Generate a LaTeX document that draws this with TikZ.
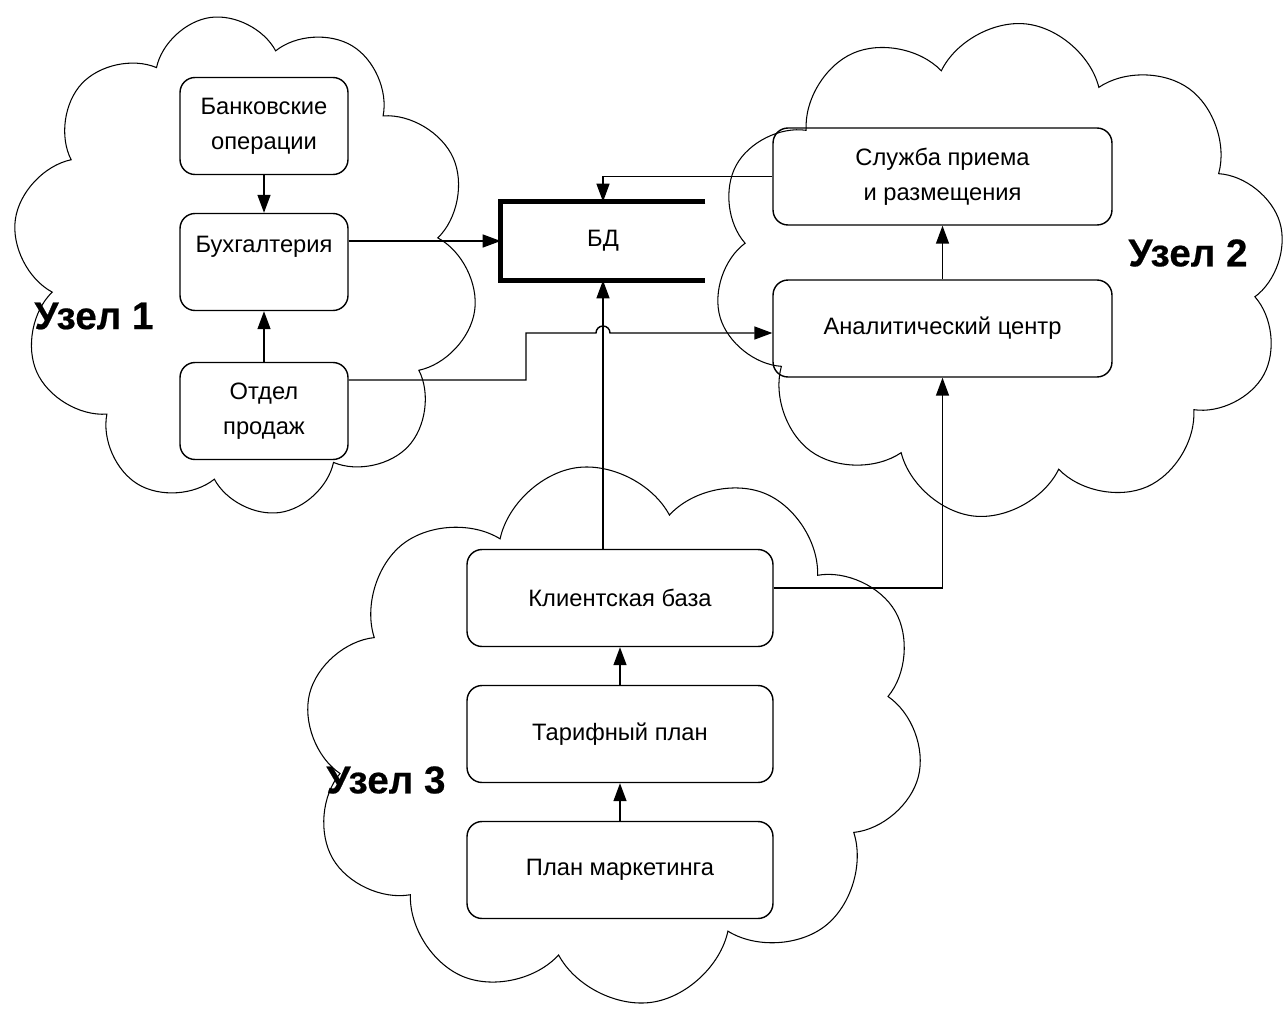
\documentclass[tikz,border=0pt]{standalone}
\usepackage{fontspec}
\setmainfont{Liberation Sans}
\newfontfamily\heavyfont[FakeBold=0.5]{Liberation Sans Bold}
\usetikzlibrary{shapes.symbols,arrows.meta}
\tikzstyle{block}=[draw, rounded corners=0.3cm, line width=0.8pt, align=center, font=\fontsize{13.5}{20}\selectfont, inner sep=0pt]
\tikzstyle{leftblock}=[block, minimum width=3.36cm, minimum height=1.94cm]
\tikzstyle{rightblock}=[block, minimum width=6.78cm, minimum height=1.94cm]
\tikzstyle{lowblock}=[block, minimum width=6.12cm, minimum height=1.94cm]
\tikzstyle{knot}=[draw, cloud, cloud puffs=10, cloud puff arc=140, cloud ignores aspect, line width=0.6pt]
\tikzstyle{knotlabel}=[font=\fontsize{22}{26}\selectfont\heavyfont]
\tikzstyle{link}=[line width=0.8pt, -{Triangle[length=3.6mm,width=2.6mm]}]

\begin{document}
\begin{tikzpicture}[x=0.02cm, y=0.02cm]
\useasboundingbox (0,0) rectangle (1288,-1011);
% clouds
\node[knot, minimum width=9.3cm, minimum height=10cm, rotate=8] (cloud1) at (245,-265) {};
\node[knot, minimum width=11.5cm, minimum height=9.9cm, rotate=-6] (cloud2) at (1000,-270) {};
\node[knot, minimum width=12.44cm, minimum height=10.8cm, rotate=8] (cloud3) at (614,-735) {};

\node[knotlabel] (lbl1) at (94,-316) {Узел 1};
\node[knotlabel] (lbl2) at (1188,-253) {Узел 2};
\node[knotlabel] (lbl3) at (386,-780) {Узел 3};

% node 1
\node[leftblock] (bank) at (264,-126) {Банковские\\операции};
\node[leftblock] (buh) at (264,-262) {Бухгалтерия\\~};
\node[leftblock] (otdel) at (264,-411) {Отдел\\продаж};

% node 2
\node[rightblock] (sluzhba) at (942.5,-176.5) {Служба приема\\и размещения};
\node[rightblock] (analit) at (942.5,-328.5) {Аналитический центр};

% node 3
\node[lowblock] (klient) at (620,-598) {Клиентская база};
\node[lowblock] (tarif) at (620,-734) {Тарифный план};
\node[lowblock] (market) at (620,-870) {План маркетинга};

% database
\node[minimum width=4.08cm, minimum height=1.56cm, font=\fontsize{13.5}{20}\selectfont] (bd) at (603,-241) {БД};
\draw[line width=2.8pt] (bd.north east) -- (bd.north west) -- (bd.south west) -- (bd.south east);

\draw[link] (bank) -- (buh);
\draw[link] (otdel) -- (buh);
\draw[link] (buh.east |- bd.west) -- (bd.west);
\draw[link] (sluzhba.west) -| (bd.north);
\draw[link] (klient.north -| bd.south) -- (bd.south);
\draw[link] (analit) -- (sluzhba);
\draw[link] ([yshift=0.2cm]klient.east) -| (analit.south);
\draw[link] (tarif) -- (klient);
\draw[link] (market) -- (tarif);

\coordinate (turn) at (526,-333);
\coordinate (hop) at (turn -| bd.south);
\draw[link] ([yshift=0.62cm]otdel.east) -| (turn) -- ([xshift=-0.14cm]hop) arc[start angle=180, end angle=0, radius=0.14cm] -- (turn -| analit.west);
\end{tikzpicture}
\end{document}
